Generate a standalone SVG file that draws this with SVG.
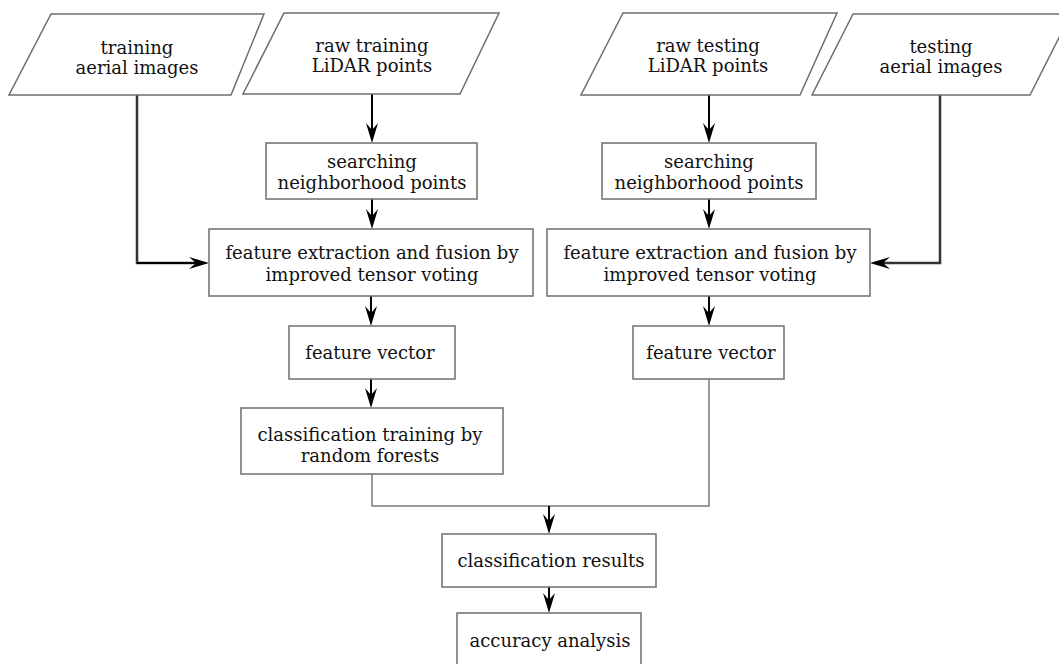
<svg xmlns="http://www.w3.org/2000/svg" width="1059" height="664" viewBox="0 0 1059 664">
<style>
.box{fill:#fff;stroke:#6e6e6e;stroke-width:1.5}
.t{font-family:"DejaVu Serif","Liberation Serif",serif;font-size:18px;fill:#111;text-anchor:middle}
.arr{fill:none;stroke:#000;stroke-width:2;marker-end:url(#ah)}
.side{fill:none;stroke:#333;stroke-width:2.5}
.thin{fill:none;stroke:#7a7a7a;stroke-width:1.5}
</style>
<defs>
<marker id="ah" markerUnits="userSpaceOnUse" viewBox="-22 -8 23 16" markerWidth="23" markerHeight="16" refX="-4" refY="0" orient="auto">
<path d="M0,0 L-20,-6 L-13,0 L-20,6 Z" fill="#000"/>
</marker>
</defs>
<rect width="1059" height="664" fill="#fff"/>
<g id="connectors">
<path class="side" d="M137,95 V263 H195"/>
<path class="arr" d="M137,263 H205" stroke="#333"/>
<path class="side" d="M940,95 V263 H884"/>
<path class="arr" d="M884,263 H874"/>
<path class="arr" d="M372,94 V139"/>
<path class="arr" d="M372,199 V225"/>
<path class="arr" d="M371,296 V322"/>
<path class="arr" d="M371,379 V404"/>
<path class="arr" d="M709,95 V139"/>
<path class="arr" d="M709,199 V225"/>
<path class="arr" d="M709,296 V322"/>
<path class="thin" d="M372,474 V506 H709 V379"/>
<path class="arr" d="M549,506 V530"/>
<path class="arr" d="M549,587 V609"/>
</g>
<g id="n1">
<polygon class="box" points="51,14 264,14 231,95 9,95"/>
<text class="t" x="137" y="54">training</text>
<text class="t" x="137" y="74">aerial images</text>
</g>
<g id="n2">
<polygon class="box" points="284,13 499,13 460,94 243,94"/>
<text class="t" x="372" y="52">raw training</text>
<text class="t" x="372" y="72">LiDAR points</text>
</g>
<g id="n3">
<polygon class="box" points="623,13 837,13 800,95 581,95"/>
<text class="t" x="708" y="52">raw testing</text>
<text class="t" x="708" y="72">LiDAR points</text>
</g>
<g id="n4">
<polygon class="box" points="853,14 1071,14 1030,95 812,95"/>
<text class="t" x="941" y="53">testing</text>
<text class="t" x="941" y="73">aerial images</text>
</g>
<g id="n5">
<rect class="box" x="266" y="143" width="211" height="56"/>
<text class="t" x="372" y="168">searching</text>
<text class="t" x="372" y="189">neighborhood points</text>
</g>
<g id="n6">
<rect class="box" x="602" y="143" width="214" height="56"/>
<text class="t" x="709" y="168">searching</text>
<text class="t" x="709" y="189">neighborhood points</text>
</g>
<g id="n7">
<rect class="box" x="209" y="229" width="324" height="67"/>
<text class="t" x="372" y="259">feature extraction and fusion by</text>
<text class="t" x="372" y="281">improved tensor voting</text>
</g>
<g id="n8">
<rect class="box" x="547" y="229" width="323" height="67"/>
<text class="t" x="710" y="259">feature extraction and fusion by</text>
<text class="t" x="710" y="281">improved tensor voting</text>
</g>
<g id="n9">
<rect class="box" x="289" y="326" width="166" height="53"/>
<text class="t" x="370" y="359">feature vector</text>
</g>
<g id="n10">
<rect class="box" x="633" y="326" width="151" height="53"/>
<text class="t" x="711" y="359">feature vector</text>
</g>
<g id="n11">
<rect class="box" x="241" y="408" width="262" height="66"/>
<text class="t" x="370" y="441">classification training by</text>
<text class="t" x="370" y="462">random forests</text>
</g>
<g id="n12">
<rect class="box" x="442" y="534" width="214" height="53"/>
<text class="t" x="551" y="567">classification results</text>
</g>
<g id="n13">
<rect class="box" x="457" y="613" width="184" height="60"/>
<text class="t" x="550" y="647">accuracy analysis</text>
</g>
</svg>
